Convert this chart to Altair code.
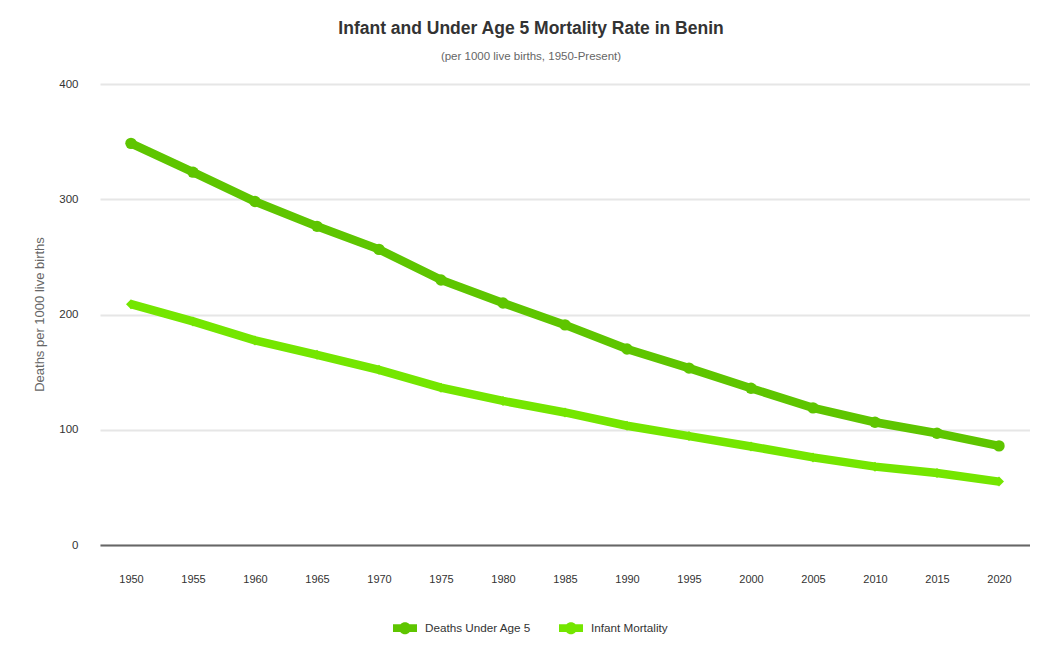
import altair as alt
import pandas as pd

years = ["1950", "1955", "1960", "1965", "1970", "1975", "1980", "1985",
         "1990", "1995", "2000", "2005", "2010", "2015", "2020"]
under5 = [348.5, 323.5, 298, 276.5, 256.5, 230, 210, 191, 170, 153.5,
          136, 119, 106.5, 97, 86]
infant = [209, 194, 177.5, 165, 152, 136.5, 125, 115, 103.5, 94.5,
          85.5, 76, 68, 62.5, 55]
series_names = ["Deaths Under Age 5", "Infant Mortality"]
series_colors = ["#5ec500", "#74e600"]

rows = []
for y, v in zip(years, under5):
    rows.append({"year": y, "value": v, "series": series_names[0]})
for y, v in zip(years, infant):
    rows.append({"year": y, "value": v, "series": series_names[1]})
df = pd.DataFrame(rows)

FONT = "Liberation Sans"
legend_path = ("M-1,-0.33H1V0.33H-1Z "
               "M-0.5,0A0.5,0.5 0 1,1 0.5,0A0.5,0.5 0 1,1 -0.5,0Z")

x_enc = alt.X("year:O", sort=years,
              scale=alt.Scale(type="point", padding=0.5),
              axis=alt.Axis(title=None, labelAngle=0, ticks=False,
                            domainColor="#666666", domainWidth=2,
                            labelPadding=28, labelFontSize=11,
                            labelColor="#333333", grid=False))
y_enc = alt.Y("value:Q",
              scale=alt.Scale(domain=[0, 400], nice=False),
              axis=alt.Axis(title="Deaths per 1000 live births",
                            values=[0, 100, 200, 300, 400],
                            domain=False, ticks=False, labelPadding=22,
                            labelFontSize=11.5, labelColor="#333333",
                            gridColor="#e6e6e6", gridWidth=2,
                            titleFontSize=13, titleColor="#666666",
                            titleFontWeight="normal", titleX=-54, titleY=230))
color_scale = alt.Scale(domain=series_names, range=series_colors)

legend = alt.Legend(title=None, orient="none", legendX=293, legendY=532,
                    direction="horizontal", symbolType=legend_path,
                    symbolSize=576, symbolStrokeWidth=0,
                    labelFontSize=11.7, labelColor="#333333", labelOffset=8,
                    columnPadding=28, labelFont=FONT)

lines = alt.Chart(df).mark_line(strokeWidth=8.5).encode(
    x=x_enc, y=y_enc,
    color=alt.Color("series:N", scale=color_scale, legend=legend),
)

pts_a = alt.Chart(df).transform_filter(
    alt.datum.series == series_names[0]
).mark_point(filled=True, shape="circle", size=130, opacity=1).encode(
    x=x_enc, y=y_enc,
    color=alt.Color("series:N", scale=color_scale, legend=legend),
)
pts_b = alt.Chart(df).transform_filter(
    alt.datum.series == series_names[1]
).mark_point(filled=True, shape="diamond", size=100, opacity=1).encode(
    x=x_enc, y=y_enc,
    color=alt.Color("series:N", scale=color_scale, legend=legend),
)

chart = alt.layer(lines, pts_a, pts_b).properties(
    width=930, height=461,
    autosize=alt.AutoSizeParams(type="none"),
    padding={"left": 92, "top": 76, "right": 0, "bottom": 95},
    title=alt.TitleParams(
        text="Infant and Under Age 5 Mortality Rate in Benin",
        subtitle="(per 1000 live births, 1950-Present)",
        fontSize=17.5, fontWeight="bold", color="#333333", font=FONT,
        subtitleFontSize=11.5, subtitleColor="#666666", subtitleFont=FONT,
        subtitlePadding=14, anchor="middle", offset=15.5, dx=-34,
    ),
).configure(font=FONT).configure_view(stroke=None).configure_axis(
    labelFont=FONT, titleFont=FONT
)

chart.save("out.html", embed_options={"renderer": "svg", "actions": False})
